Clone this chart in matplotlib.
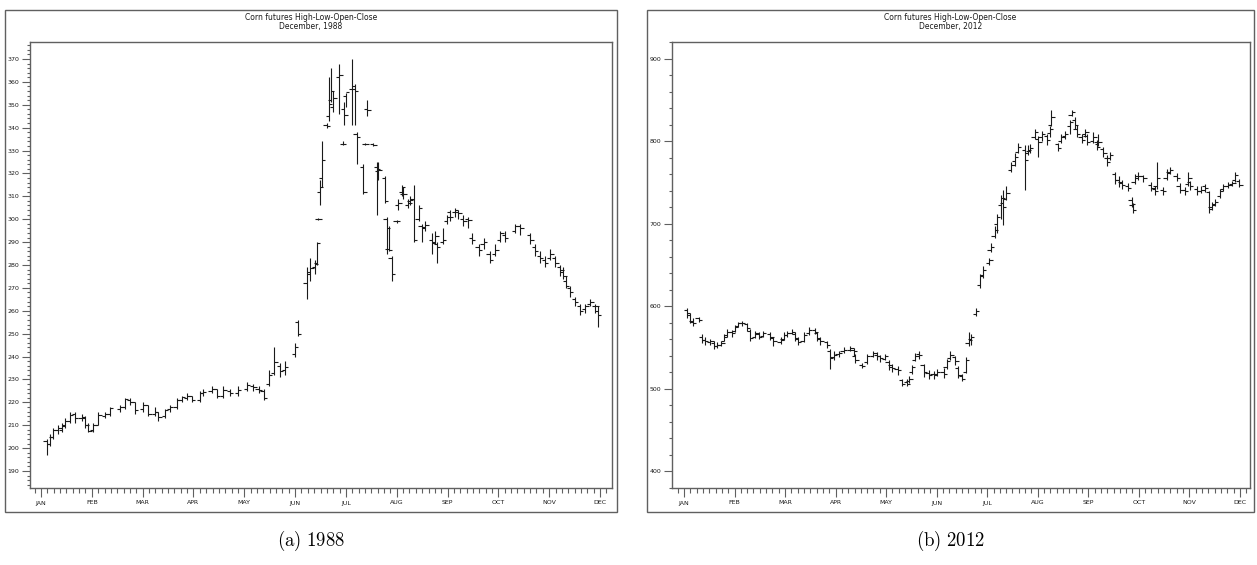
import numpy as np
import matplotlib.pyplot as plt
from matplotlib.patches import Rectangle
from matplotlib.ticker import MultipleLocator

months = ['JAN', 'FEB', 'MAR', 'APR', 'MAY', 'JUN',
          'JUL', 'AUG', 'SEP', 'OCT', 'NOV', 'DEC']

# December 1988 contract, position in months from Jan 1
pos88 = [0.11, 0.18, 0.23, 0.34, 0.41, 0.47, 0.57, 0.67, 0.80, 0.87,
         0.93, 1.03, 1.13, 1.26, 1.36, 1.56, 1.65, 1.75, 1.85, 2.01,
         2.11, 2.24, 2.31, 2.44, 2.54, 2.67, 2.77, 2.87, 2.97, 3.13,
         3.19, 3.36, 3.46, 3.59, 3.72, 3.88, 4.05, 4.18, 4.28, 4.38,
         4.49, 4.59, 4.70, 4.80, 5.00, 5.06, 5.23, 5.30, 5.39, 5.43,
         5.46, 5.49, 5.53, 5.62, 5.67, 5.71, 5.75, 5.87, 5.94, 5.97,
         6.00, 6.12, 6.18, 6.21, 6.34, 6.38, 6.42, 6.54, 6.61, 6.64,
         6.77, 6.80, 6.84, 6.90, 7.00, 7.03, 7.10, 7.13, 7.23, 7.26,
         7.33, 7.43, 7.49, 7.56, 7.69, 7.76, 7.79, 7.91, 7.99, 8.05,
         8.15, 8.21, 8.31, 8.41, 8.48, 8.61, 8.71, 8.83, 8.94, 9.04,
         9.13, 9.33, 9.43, 9.63, 9.72, 9.82, 9.92, 10.02, 10.12, 10.22,
         10.28, 10.33, 10.41, 10.51, 10.61, 10.71, 10.81, 10.91, 10.96]
open88 = [203, 202, 205, 208, 208, 210, 212, 215, 213, 213,
          210, 208, 210, 214, 215, 217, 218, 221, 220, 217,
          219, 215, 216, 214, 217, 218, 221, 222, 223, 221,
          224, 225, 226, 223, 225, 224, 226, 227, 226, 225,
          228, 233, 236, 234, 241, 255, 272, 277, 279, 281,
          300, 312, 318, 341, 345, 352, 349, 362, 333, 348,
          354, 357, 358, 337, 323, 333, 348, 333, 323, 321,
          318, 300, 287, 283, 299, 306, 312, 311, 306, 308,
          309, 300, 297, 296, 291, 290, 289, 290, 299, 303,
          303, 303, 300, 300, 292, 288, 289, 285, 285, 291,
          293, 295, 297, 293, 288, 284, 282, 283, 283, 279,
          277, 273, 270, 265, 262, 261, 263, 262, 260]
high88 = [204, 206, 209, 210, 211, 213, 216, 216, 215, 214,
          211, 211, 216, 216, 218, 219, 222, 222, 220, 220,
          219, 218, 216, 217, 219, 222, 223, 224, 223, 225,
          226, 227, 226, 227, 226, 227, 229, 228, 227, 226,
          234, 244, 237, 238, 246, 256, 279, 283, 282, 290,
          300.5, 317, 334, 342, 362, 366, 356, 368, 334, 351,
          355, 370, 359, 338, 324, 333.5, 352, 333.5, 325, 325,
          319, 301, 297, 284, 299.5, 309, 315, 314, 309, 310,
          315, 306, 298, 299, 294, 295, 290, 296, 302, 304,
          305, 304, 302, 301, 294, 289, 292, 286, 289, 295,
          295, 298, 298, 294, 289, 286, 284, 287, 284, 280,
          279, 275, 271, 266, 263, 263, 265, 263, 262]
low88 = [197, 201, 204, 206, 207, 209, 211, 211, 212, 209,
         207, 207, 210, 213, 214, 216, 217, 219, 215, 216,
         214, 214, 212, 213, 216, 217, 220, 221, 220, 220,
         223, 224, 222, 222, 223, 223, 225, 225, 224, 221,
         227, 232, 231, 232, 240, 249, 265, 273, 276, 280,
         299.5, 306, 314, 340, 343, 351, 347, 346, 332.5, 341,
         349, 341, 341, 324, 311, 332.5, 345, 332, 302, 317,
         307, 285, 286, 273, 298.5, 304, 310, 309, 305, 306,
         290, 299, 290, 295, 285, 289, 281, 289, 298, 299,
         301, 300, 297, 296, 289, 284, 287, 281, 284, 290,
         290, 294, 293, 289, 284, 281, 279, 282, 279, 275,
         274, 270, 266, 262, 258, 259, 262, 259, 253]
close88 = [202, 205, 208, 209, 209.5, 212, 214.5, 213, 213.5, 210,
           207.5, 210, 214.5, 215, 217.5, 218, 221.5, 220, 216.5, 219,
           215, 216, 213.5, 216.5, 218, 221, 222.5, 223, 221, 224,
           224.5, 226, 223, 225.5, 224, 225.5, 227.5, 226.5, 225.5, 222,
           232, 237.5, 233.5, 235.5, 244, 250, 276, 278.5, 280.5, 289.5,
           300, 314, 326, 340.5, 350.5, 356, 353, 363, 333, 345.5,
           355.5, 357, 356, 336, 312, 333, 347.5, 332.5, 322, 321.5,
           308, 296, 286.5, 276, 299, 307, 314, 311, 307, 308.5,
           291, 305, 296.5, 297.5, 289.5, 292.5, 288, 291, 301, 301,
           304, 302.5, 299, 299.5, 291, 286.5, 290, 282, 286.5, 294,
           292, 297, 296, 291, 286, 283, 281, 285, 281, 278,
           275, 271, 268, 264, 260, 262, 264, 262, 258]

# December 2012 contract
pos12 = [0.06, 0.12, 0.17, 0.29, 0.36, 0.42, 0.52, 0.59, 0.65, 0.74,
         0.79, 0.85, 0.95, 1.01, 1.07, 1.15, 1.25, 1.31, 1.41, 1.48,
         1.56, 1.71, 1.77, 1.91, 1.97, 2.04, 2.14, 2.20, 2.26, 2.37,
         2.47, 2.59, 2.63, 2.70, 2.83, 2.89, 2.96, 3.06, 3.16, 3.29,
         3.36, 3.39, 3.52, 3.62, 3.75, 3.82, 3.88, 3.98, 4.05, 4.11,
         4.23, 4.31, 4.41, 4.46, 4.51, 4.58, 4.65, 4.74, 4.84, 4.94,
         5.00, 5.14, 5.20, 5.27, 5.37, 5.43, 5.50, 5.58, 5.63, 5.68,
         5.78, 5.86, 5.92, 6.04, 6.07, 6.15, 6.19, 6.28, 6.31, 6.38,
         6.48, 6.55, 6.61, 6.75, 6.81, 6.84, 6.94, 7.01, 7.08, 7.18,
         7.24, 7.27, 7.40, 7.47, 7.54, 7.64, 7.67, 7.74, 7.77, 7.87,
         7.94, 7.97, 8.10, 8.17, 8.20, 8.30, 8.37, 8.43, 8.53, 8.60,
         8.66, 8.79, 8.86, 8.88, 8.92, 8.98, 9.09, 9.25, 9.32, 9.35,
         9.48, 9.55, 9.61, 9.75, 9.81, 9.91, 9.98, 10.01, 10.15, 10.24,
         10.31, 10.39, 10.44, 10.51, 10.61, 10.67, 10.77, 10.85, 10.90, 10.99]
open12 = [595, 589, 582, 585, 562, 559, 556, 555, 552, 553,
          558, 565, 568, 570, 576, 580, 578, 570, 563, 566,
          564, 566, 561, 556, 560, 565, 567, 566, 560, 558,
          567, 571, 567, 560, 556, 545, 538, 542, 545, 547,
          547, 540, 529, 532, 540, 541, 539, 536, 532, 528,
          524, 510, 508, 509, 520, 535, 542, 528, 519, 518,
          517, 520, 526, 537, 538, 525, 515, 520, 555, 560,
          590, 625, 638, 652, 668, 685, 700, 722, 725, 730,
          765, 776, 787, 789, 785, 788, 805, 803, 805, 806,
          810, 820, 796, 800, 806, 818, 832, 825, 815, 805,
          808, 806, 800, 799, 796, 790, 780, 779, 760, 753,
          750, 745, 728, 722, 750, 755, 757, 747, 742, 745,
          741, 755, 762, 758, 746, 741, 748, 750, 742, 740,
          745, 738, 720, 724, 733, 742, 745, 748, 753, 752]
high12 = [597, 592, 585, 587, 566, 562, 560, 557, 556, 558,
          566, 572, 571, 577, 581, 582, 579, 572, 570, 568,
          570, 568, 563, 562, 568, 570, 572, 568, 562, 568,
          574, 573, 568, 562, 558, 548, 545, 546, 550, 551,
          549, 542, 531, 542, 546, 544, 541, 542, 534, 530,
          527, 512, 511, 515, 529, 543, 546, 530, 523, 521,
          524, 525, 536, 546, 540, 527, 518, 538, 568, 566,
          597, 639, 648, 658, 676, 697, 712, 735, 741, 745,
          775, 786, 797, 795, 795, 796, 815, 806, 812, 808,
          818, 838, 798, 808, 812, 826, 838, 829, 820, 808,
          815, 808, 811, 801, 808, 793, 783, 787, 763, 757,
          753, 749, 732, 725, 760, 762, 759, 750, 745, 774,
          744, 766, 768, 761, 749, 744, 762, 752, 745, 746,
          748, 740, 726, 730, 742, 748, 750, 752, 762, 754]
low12 = [586, 580, 576, 581, 555, 553, 553, 548, 549, 551,
         557, 563, 563, 568, 574, 576, 570, 558, 561, 560,
         562, 559, 552, 554, 559, 563, 566, 558, 553, 556,
         565, 566, 558, 553, 549, 524, 535, 538, 543, 545,
         540, 531, 525, 530, 538, 535, 532, 534, 523, 520,
         516, 503, 503, 507, 518, 533, 536, 514, 512, 511,
         515, 513, 524, 535, 529, 513, 509, 519, 551, 553,
         588, 622, 634, 650, 666, 683, 688, 705, 698, 728,
         762, 770, 785, 741, 783, 786, 803, 781, 800, 795,
         805, 818, 788, 797, 803, 808, 830, 815, 805, 797,
         805, 795, 798, 789, 794, 781, 770, 777, 748, 744,
         742, 740, 720, 713, 748, 753, 750, 739, 735, 742,
         735, 753, 760, 751, 737, 735, 746, 741, 735, 737,
         738, 713, 716, 721, 731, 740, 743, 745, 750, 744]
close12 = [591, 581, 579, 583, 559, 557, 557, 551, 553, 555,
           563, 569, 567, 575, 579, 579, 573, 561, 567, 563,
           567, 563, 557, 559, 565, 567, 569, 561, 556, 565,
           571, 569, 561, 557, 553, 537, 541, 543, 547, 549,
           545, 535, 527, 539, 543, 539, 537, 539, 526, 525,
           522, 506, 506, 512, 526, 539, 541, 520, 516, 516,
           520, 518, 533, 541, 533, 516, 512, 535, 559, 563,
           594, 636, 644, 656, 672, 692, 708, 731, 720, 737,
           771, 781, 793, 777, 789, 791, 811, 799, 809, 801,
           815, 829, 791, 805, 809, 823, 835, 819, 809, 801,
           811, 799, 805, 793, 799, 785, 775, 783, 753, 749,
           747, 743, 724, 716, 757, 757, 755, 743, 739, 755,
           739, 761, 765, 755, 741, 739, 755, 745, 739, 741,
           743, 718, 722, 726, 739, 745, 747, 749, 759, 747]

W, H = 1257, 565
ink = '#1a1a1a'
frame = '#606060'
sas_font = ['Liberation Sans Narrow', 'DejaVu Sans']


def draw_hloc(ax, pos, o, h, l, c, w):
    pos = np.asarray(pos)
    ax.vlines(pos, l, h, color=ink, lw=0.8)
    ax.hlines(o, pos - w, pos, color=ink, lw=0.8)
    ax.hlines(c, pos, pos + w, color=ink, lw=0.8)


def panel(fig, box, axbox, year, data, xlim, ylim, ymajor, yminor, w):
    x0, y0, x1, y1 = box
    fig.add_artist(Rectangle((x0 / W, 1 - y1 / H), (x1 - x0) / W, (y1 - y0) / H,
                             transform=fig.transFigure, fill=False,
                             edgecolor=frame, lw=1.0))
    cx = (x0 + x1) / 2 / W
    fig.text(cx, 1 - 17 / H, 'Corn futures High-Low-Open-Close', ha='center',
             va='center', fontsize=5.5, family=sas_font, color=ink)
    fig.text(cx, 1 - 27 / H, 'December, %d' % year, ha='center',
             va='center', fontsize=5.5, family=sas_font, color=ink)
    ax0, ay0, ax1, ay1 = axbox
    ax = fig.add_axes([ax0 / W, 1 - ay1 / H, (ax1 - ax0) / W, (ay1 - ay0) / H])
    draw_hloc(ax, *data, w)
    ax.set_xlim(*xlim)
    ax.set_ylim(*ylim)
    ax.set_xticks(range(12))
    ax.set_xticklabels(months)
    ax.xaxis.set_minor_locator(MultipleLocator(0.125))
    ax.yaxis.set_major_locator(MultipleLocator(ymajor))
    ax.yaxis.set_minor_locator(MultipleLocator(yminor))
    ax.tick_params(axis='x', which='major', length=6.5, width=0.8, pad=2.5,
                   labelsize=4.5, colors=frame, labelcolor=ink)
    ax.tick_params(axis='x', which='minor', length=3.5, width=0.8, colors=frame)
    ax.tick_params(axis='y', which='major', length=6, width=0.8, pad=1.5,
                   labelsize=4.5, colors=frame, labelcolor=ink)
    ax.tick_params(axis='y', which='minor', length=2.5, width=0.8, colors=frame)
    for lab in ax.get_xticklabels() + ax.get_yticklabels():
        lab.set_family(sas_font)
    for sp in ax.spines.values():
        sp.set_color(frame)
        sp.set_linewidth(1.0)
    return ax


plt.rcParams['mathtext.fontset'] = 'cm'
fig = plt.figure(figsize=(W / 100, H / 100), dpi=100)

panel(fig, (5, 10, 617, 512), (30, 42, 612, 488), 1988,
      (pos88, open88, high88, low88, close88),
      (-0.217, 11.236), (182.6, 377.4), 10, 2, 0.065)
panel(fig, (647, 10, 1254, 512), (672, 42, 1250, 488), 2012,
      (pos12, open12, high12, low12, close12),
      (-0.237, 11.2), (379.4, 920), 100, 20, 0.065)

fig.text(311 / W, 1 - 541 / H, r'$\mathrm{(a)\ 1988}$', ha='center',
         va='center', fontsize=13.5)
fig.text(950 / W, 1 - 541 / H, r'$\mathrm{(b)\ 2012}$', ha='center',
         va='center', fontsize=13.5)

fig.savefig('out.png', dpi=100)
